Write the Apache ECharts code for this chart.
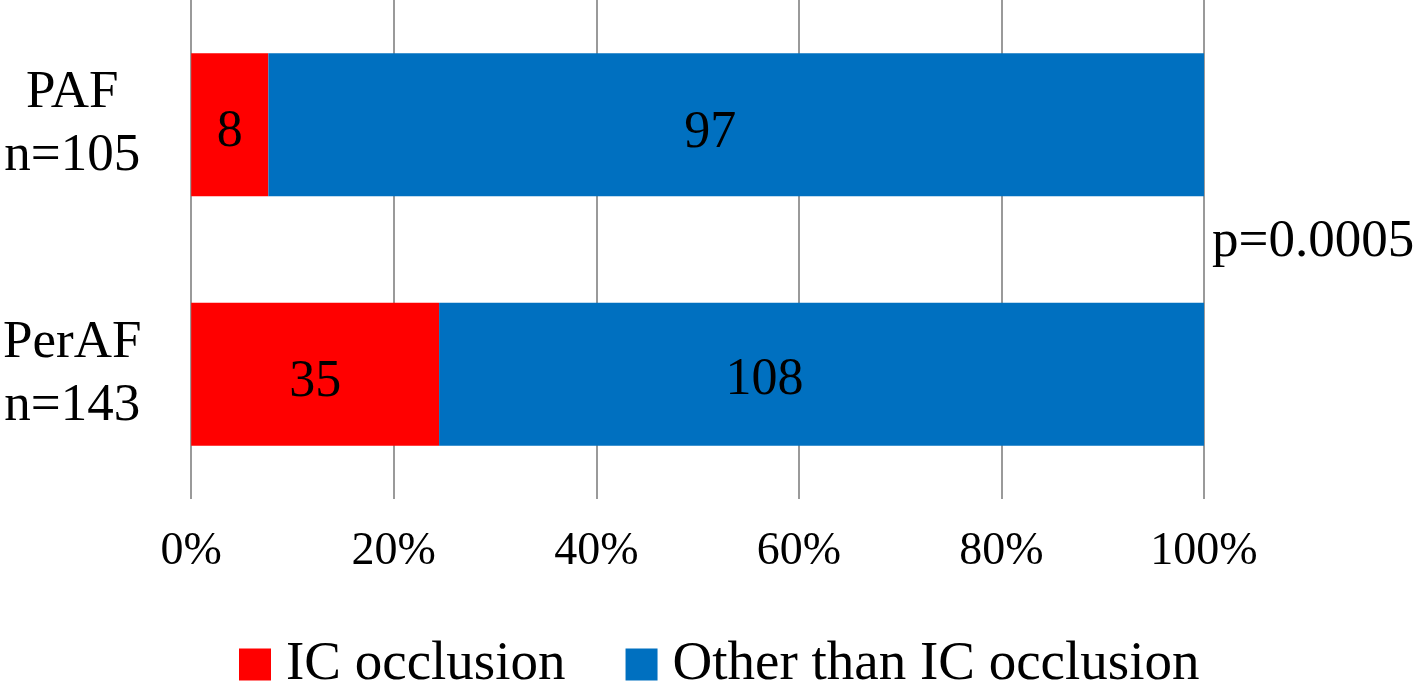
<!DOCTYPE html>
<html>
<head>
<meta charset="utf-8">
<script src="https://cdn.jsdelivr.net/npm/echarts@6/dist/echarts.min.js"></script>
<style>
html,body{margin:0;padding:0;background:#fff;}
#chart{width:1418px;height:684px;}
</style>
</head>
<body>
<div id="chart"></div>
<script>
const categories = ['PAF\nn=105', 'PerAF\nn=143'];
const seriesNames = ['IC occlusion', 'Other than IC occlusion'];
const icCounts = [8, 35];
const otherCounts = [97, 108];
const xTicks = [0, 20, 40, 60, 80, 100];
const pValueText = 'p=0.0005';

const FONT = 'Liberation Serif';
const totals = icCounts.map((v, i) => v + otherCounts[i]);
const share = (arr) => arr.map((v, i) => v / totals[i] * 100);

const chart = echarts.init(document.getElementById('chart'));
const option = {
  backgroundColor: '#ffffff',
  animation: false,
  textStyle: { fontFamily: FONT },
  grid: { left: 189, right: 214, top: 0, height: 499, containLabel: false },
  xAxis: {
    type: 'value', min: xTicks[0], max: xTicks[xTicks.length - 1], interval: 20,
    axisLine: { show: false }, axisTick: { show: false },
    splitLine: { show: true, lineStyle: { color: '#9a9a9a', width: 2 } },
    axisLabel: { formatter: v => v + '%', fontFamily: FONT, fontSize: 46, color: '#000', margin: 30 }
  },
  yAxis: {
    type: 'category', data: categories, inverse: true,
    axisLine: { show: false }, axisTick: { show: false },
    axisLabel: { fontFamily: FONT, fontSize: 53, lineHeight: 63, color: '#000', align: 'center', margin: 119 }
  },
  legend: {
    left: 239, top: 637, padding: 0, icon: 'rect', itemWidth: 32, itemHeight: 32, itemGap: 60,
    textStyle: { fontFamily: FONT, fontSize: 55, color: '#000', padding: [0, 0, 0, 10] },
    data: seriesNames
  },
  series: [
    {
      name: seriesNames[0], type: 'bar', stack: 'total', barWidth: 143,
      itemStyle: { color: '#ff0000' },
      label: { show: true, position: 'inside', fontFamily: FONT, fontSize: 52, color: '#000',
        offset: [0, 8], formatter: p => icCounts[p.dataIndex] },
      data: share(icCounts)
    },
    {
      name: seriesNames[1], type: 'bar', stack: 'total', barWidth: 143,
      itemStyle: { color: '#0070c0' },
      label: { show: true, position: 'inside', fontFamily: FONT, fontSize: 52, color: '#000',
        formatter: p => otherCounts[p.dataIndex] },
      data: share(otherCounts).map((v, i) => ({ value: v, label: { offset: i === 0 ? [-26, 9] : [-57, 6] } }))
    }
  ],
  graphic: [
    { type: 'text', left: 1212, top: 216, style: { text: pValueText, fontFamily: FONT, fontSize: 53, fill: '#000' } }
  ]
};
chart.setOption(option);
</script>
</body>
</html>
